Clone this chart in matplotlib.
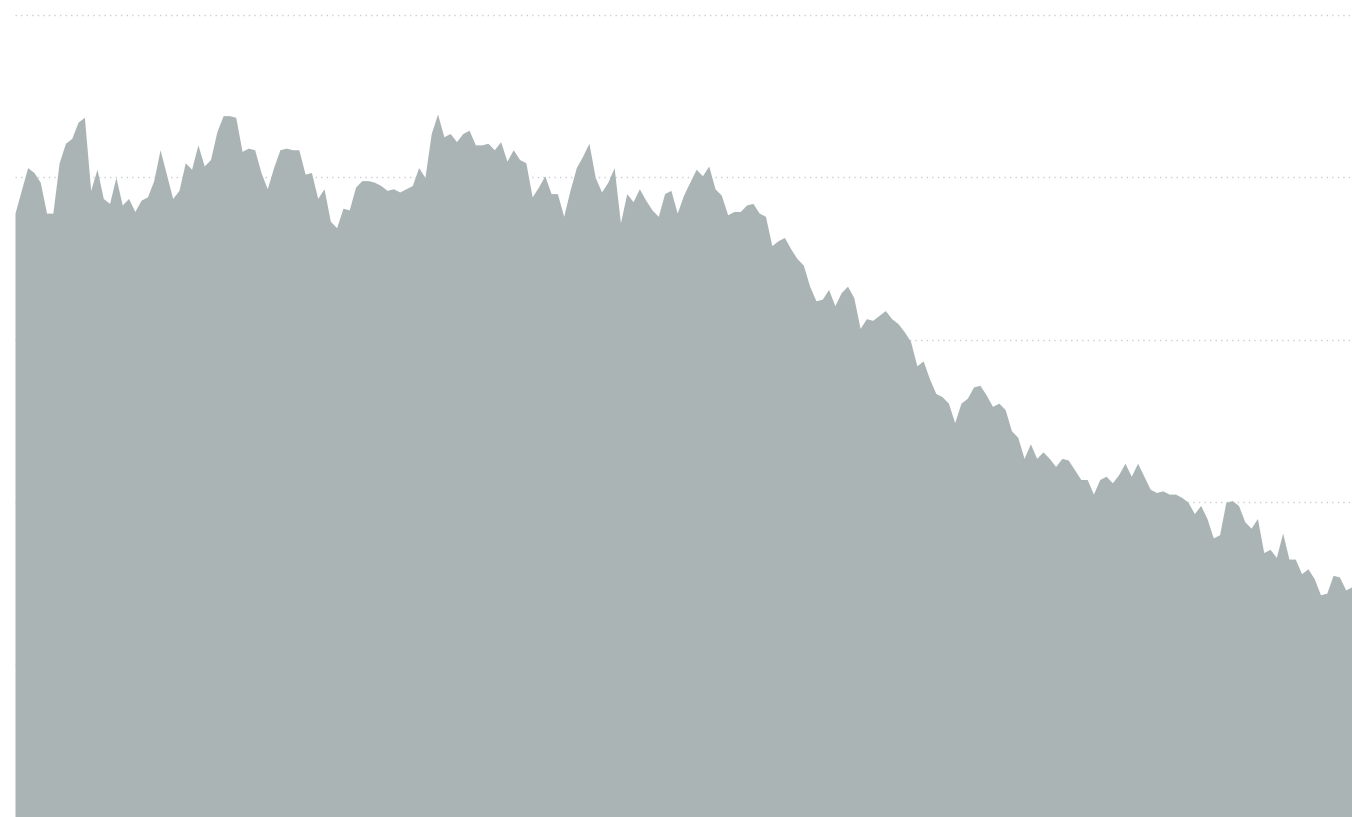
import numpy as np
import matplotlib
matplotlib.use("Agg")
import matplotlib.pyplot as plt

# weekly values
values = [
    37.8, 39.2, 40.6, 40.3, 39.7, 37.8, 37.8, 40.9, 42.1, 42.4,
    43.4, 43.7, 39.2, 40.5, 38.7, 38.4, 40.0, 38.3, 38.7, 37.9,
    38.6, 38.8, 39.8, 41.7, 40.2, 38.7, 39.2, 40.9, 40.5, 42.0,
    40.7, 41.1, 42.8, 43.8, 43.8, 43.7, 41.6, 41.8, 41.7, 40.3,
    39.3, 40.6, 41.7, 41.8, 41.7, 41.7, 40.2, 40.3, 38.7, 39.3,
    37.3, 36.9, 38.1, 38.0, 39.4, 39.8, 39.8, 39.7, 39.5, 39.2,
    39.3, 39.1, 39.3, 39.5, 40.6, 40.0, 42.7, 43.9, 42.5, 42.7,
    42.2, 42.7, 42.9, 42.0, 42.0, 42.1, 41.7, 42.2, 41.0, 41.7,
    41.1, 40.9, 38.8, 39.4, 40.1, 39.0, 39.0, 37.6, 39.2, 40.6,
    41.3, 42.1, 40.0, 39.1, 39.7, 40.6, 37.2, 39.0, 38.5, 39.3,
    38.6, 38.0, 37.6, 39.0, 39.2, 37.8, 38.9, 39.7, 40.5, 40.1,
    40.7, 39.3, 38.9, 37.7, 37.9, 37.9, 38.3, 38.4, 37.8, 37.6,
    35.8, 36.1, 36.3, 35.6, 35.0, 34.6, 33.3, 32.4, 32.5, 33.1,
    32.1, 32.9, 33.3, 32.6, 30.7, 31.3, 31.2, 31.5, 31.8, 31.3,
    31.0, 30.5, 29.9, 28.4, 28.7, 27.6, 26.7, 26.5, 26.1, 24.9,
    26.1, 26.4, 27.1, 27.2, 26.6, 25.9, 26.1, 25.7, 24.4, 24.0,
    22.7, 23.6, 22.7, 23.1, 22.7, 22.2, 22.7, 22.6, 22.0, 21.4,
    21.4, 20.5, 21.4, 21.6, 21.2, 21.7, 22.4, 21.6, 22.4, 21.6,
    20.8, 20.6, 20.7, 20.5, 20.5, 20.3, 20.0, 19.3, 19.8, 19.0,
    17.8, 18.0, 20.0, 20.1, 19.8, 18.8, 18.4, 19.0, 16.9, 17.1,
    16.6, 18.1, 16.5, 16.5, 15.6, 15.9, 15.3, 14.3, 14.4, 15.5,
    15.4, 14.6, 14.8,
]
weeks = np.arange(len(values))
grid_levels = [10, 20, 30, 40, 50]

fig = plt.figure(figsize=(13.52, 8.17), dpi=100)
ax = fig.add_axes([15 / 1352, 0, 1337 / 1352, 1])

for lvl in grid_levels:
    ax.axhline(lvl, color="#cdcdd6", linewidth=1, linestyle=(0, (1, 3)), zorder=0)

ax.fill_between(weeks, 0, values, color="#aab4b5", linewidth=0, zorder=2)

ax.set_xlim(0, len(values) - 1)
ax.set_ylim(0.62, 50.92)
ax.axis("off")

fig.savefig("out.png", dpi=100)
